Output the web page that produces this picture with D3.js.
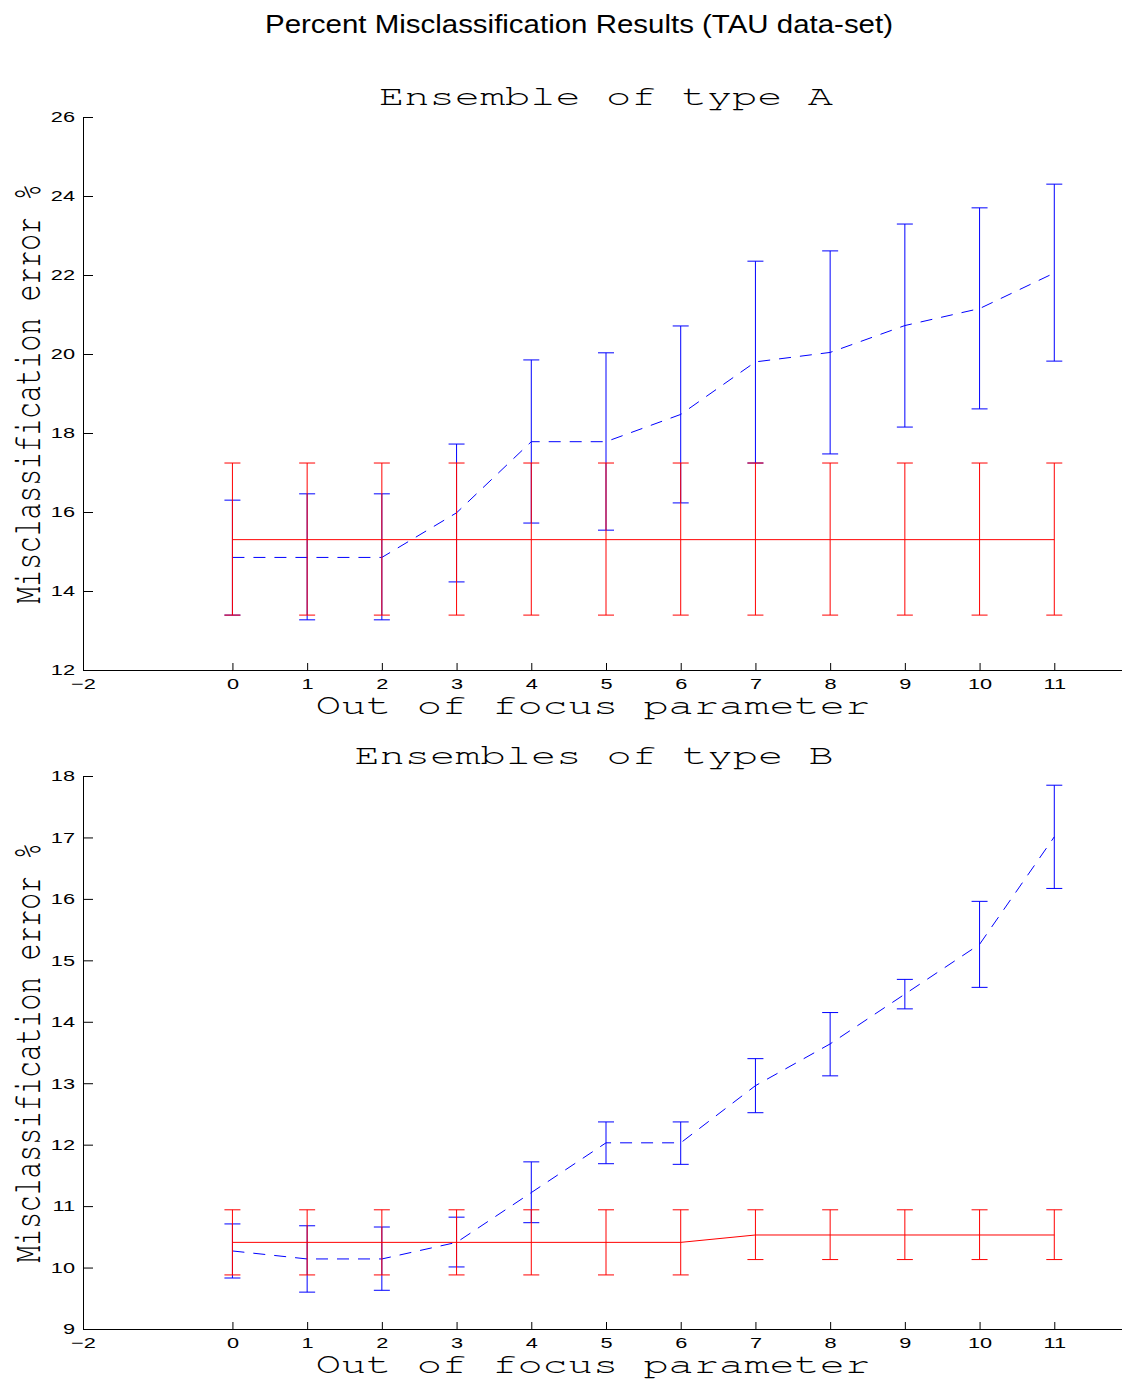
<!DOCTYPE html>
<html>
<head>
<meta charset="UTF-8">
<title>Percent Misclassification Results (TAU data-set)</title>
<script src="https://d3js.org/d3.v7.min.js"></script>
<style>
  body { margin: 0; background: #fff; }
  svg { display: block; background: #fff; }
</style>
</head>
<body>
<svg id="chart" width="1122" height="1380"></svg>
<script>
// out of focus parameter values
const focusParam = [0, 1, 2, 3, 4, 5, 6, 7, 8, 9, 10, 11];

// type A, blue dashed series
const aBlueMean = [14.85, 14.85, 14.85, 15.98, 17.78, 17.78, 18.47, 19.80, 20.04, 20.72, 21.15, 22.05];
const aBlueLow  = [13.39, 13.27, 13.27, 14.23, 15.72, 15.54, 16.23, 17.24, 17.47, 18.15, 18.61, 19.82];
const aBlueHigh = [16.30, 16.46, 16.46, 17.72, 19.85, 20.03, 20.71, 22.35, 22.61, 23.29, 23.70, 24.30];
// type A, red solid series
const aRedMean = [15.30, 15.30, 15.30, 15.30, 15.30, 15.30, 15.30, 15.30, 15.30, 15.30, 15.30, 15.30];
const aRedLow  = [13.39, 13.39, 13.39, 13.39, 13.39, 13.39, 13.39, 13.39, 13.39, 13.39, 13.39, 13.39];
const aRedHigh = [17.24, 17.24, 17.24, 17.24, 17.24, 17.24, 17.24, 17.24, 17.24, 17.24, 17.24, 17.24];

// type B, blue dashed series
const bBlueMean = [10.27, 10.14, 10.14, 10.41, 11.22, 12.03, 12.03, 12.96, 13.64, 14.45, 15.26, 17.01];
const bBlueLow  = [9.83, 9.60, 9.63, 10.01, 10.73, 11.69, 11.68, 12.52, 13.12, 14.21, 14.56, 16.17];
const bBlueHigh = [10.71, 10.68, 10.66, 10.82, 11.72, 12.37, 12.37, 13.40, 14.15, 14.69, 15.96, 17.85];
// type B, red solid series
const bRedMean = [10.41, 10.41, 10.41, 10.41, 10.41, 10.41, 10.41, 10.53, 10.53, 10.53, 10.53, 10.53];
const bRedLow  = [9.88, 9.88, 9.88, 9.88, 9.88, 9.88, 9.88, 10.13, 10.13, 10.13, 10.13, 10.13];
const bRedHigh = [10.94, 10.94, 10.94, 10.94, 10.94, 10.94, 10.94, 10.94, 10.94, 10.94, 10.94, 10.94];

// axis ticks
const xTicks = [-2, 0, 1, 2, 3, 4, 5, 6, 7, 8, 9, 10, 11];
const yTicksA = [12, 14, 16, 18, 20, 22, 24, 26];
const yTicksB = [9, 10, 11, 12, 13, 14, 15, 16, 17, 18];

const STRETCH = 1.45;   // the figure text is widened horizontally
const monoFont = '"Nimbus Mono PS", "FreeMono", "Courier New", Courier, "Liberation Mono", monospace';
const tickFont = '"Liberation Sans", Arial, Helvetica, sans-serif';

const svg = d3.select('#chart');

svg.append('text')
    .attr('x', 579)
    .attr('y', 33)
    .attr('text-anchor', 'middle')
    .attr('font-family', '"Liberation Sans", Arial, sans-serif')
    .attr('font-size', 26)
    .attr('textLength', 628)
    .attr('lengthAdjust', 'spacingAndGlyphs')
    .text('Percent Misclassification Results (TAU data-set)');

function drawPanel(p) {
    const x = d3.scaleLinear().domain([-2, 12]).range([83, 1129]);
    const y = d3.scaleLinear().domain(p.yDomain).range([p.bottom, p.top]);
    const g = svg.append('g');

    // axes
    const yAxis = g.append('g')
        .attr('transform', `translate(${x(-2)},0)`)
        .call(d3.axisLeft(y).tickValues(p.yTicks).tickSize(-10).tickSizeOuter(0).tickPadding(8));
    const xAxis = g.append('g')
        .attr('transform', `translate(0,${p.bottom})`)
        .call(d3.axisBottom(x).tickValues(xTicks).tickSize(-7).tickSizeOuter(0).tickPadding(8));
    [yAxis, xAxis].forEach(ax => {
        ax.selectAll('.domain').attr('stroke', '#000');
        ax.selectAll('.tick line').attr('stroke', '#000');
        ax.selectAll('.tick text')
            .attr('fill', '#000')
            .attr('font-family', tickFont)
            .attr('font-size', 15);
    });
    yAxis.selectAll('.tick text')
        .attr('x', -8 / STRETCH)
        .attr('transform', `scale(${STRETCH},1)`);
    xAxis.selectAll('.tick text')
        .attr('dy', '0.71em')
        .attr('transform', `scale(${STRETCH},1)`);
    xAxis.selectAll('.tick').filter(d => d === -2).select('line').remove();

    function series(mean, low, high, color, dash) {
        const pts = focusParam.map((v, i) => ({ v, m: mean[i], lo: low[i], hi: high[i] }));
        const bars = g.append('g').attr('stroke', color).attr('stroke-width', 1).attr('fill', 'none');
        bars.selectAll('.eb').data(pts).enter().append('line')
            .attr('x1', d => x(d.v)).attr('x2', d => x(d.v))
            .attr('y1', d => y(d.lo)).attr('y2', d => y(d.hi));
        bars.selectAll('.cap-lo').data(pts).enter().append('line')
            .attr('x1', d => x(d.v) - 8).attr('x2', d => x(d.v) + 8)
            .attr('y1', d => y(d.lo)).attr('y2', d => y(d.lo));
        bars.selectAll('.cap-hi').data(pts).enter().append('line')
            .attr('x1', d => x(d.v) - 8).attr('x2', d => x(d.v) + 8)
            .attr('y1', d => y(d.hi)).attr('y2', d => y(d.hi));
        g.append('path')
            .datum(pts)
            .attr('fill', 'none')
            .attr('stroke', color)
            .attr('stroke-width', 1)
            .attr('stroke-dasharray', dash)
            .attr('d', d3.line().x(d => x(d.v)).y(d => y(d.m)));
    }
    series(p.blue[0], p.blue[1], p.blue[2], '#0000ff', '12,9');
    series(p.red[0], p.red[1], p.red[2], '#ff0000', null);

    // titles and labels
    g.append('text')
        .attr('transform', `translate(${p.titleX},${p.top - 12}) scale(${STRETCH},1)`)
        .attr('text-anchor', 'middle')
        .attr('font-family', monoFont)
        .attr('font-size', 29)
        .text(p.title);
    g.append('text')
        .attr('transform', `translate(593,${p.bottom + 44}) scale(1.5,1)`)
        .attr('text-anchor', 'middle')
        .attr('font-family', monoFont)
        .attr('font-size', 28)
        .text('Out of focus parameter');
    g.append('text')
        .attr('transform', `translate(40,${(p.top + p.bottom) / 2}) scale(${STRETCH},1) rotate(-90)`)
        .attr('text-anchor', 'middle')
        .attr('font-family', monoFont)
        .attr('font-size', 28)
        .text('Misclassification error %');
}

drawPanel({
    top: 117, bottom: 670, yDomain: [12, 26], yTicks: yTicksA,
    title: 'Ensemble of type A', titleX: 606,
    blue: [aBlueMean, aBlueLow, aBlueHigh],
    red: [aRedMean, aRedLow, aRedHigh]
});
drawPanel({
    top: 776, bottom: 1329, yDomain: [9, 18], yTicks: yTicksB,
    title: 'Ensembles of type B', titleX: 594,
    blue: [bBlueMean, bBlueLow, bBlueHigh],
    red: [bRedMean, bRedLow, bRedHigh]
});
</script>
</body>
</html>
